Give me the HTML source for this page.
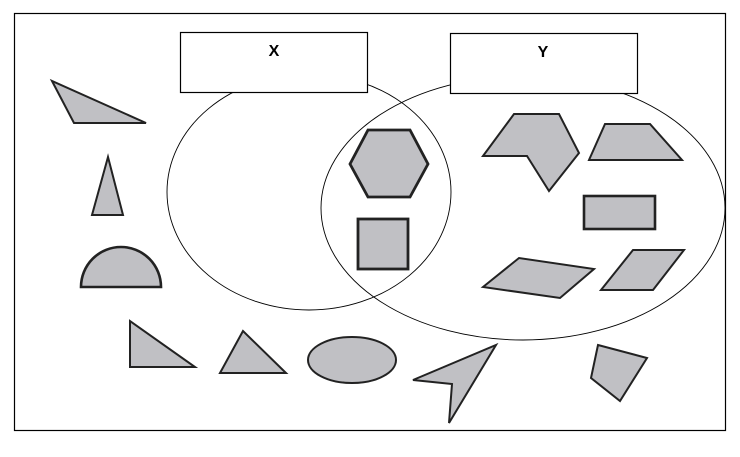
<!DOCTYPE html>
<html><head><style>html,body{margin:0;padding:0;background:#fff}</style></head><body>
<svg width="740" height="452" viewBox="0 0 740 452" xmlns="http://www.w3.org/2000/svg">
<rect x="14.5" y="13.5" width="711" height="417" fill="#fff" stroke="#000" stroke-width="1.2"/>
<ellipse cx="309" cy="192" rx="142" ry="118" fill="none" stroke="#000" stroke-width="0.9"/>
<ellipse cx="523" cy="208" rx="202" ry="132" fill="none" stroke="#000" stroke-width="0.9"/>
<rect x="180.5" y="32.5" width="187" height="60" fill="#fff" stroke="#000" stroke-width="1.2"/>
<rect x="450.5" y="33.5" width="187" height="60" fill="#fff" stroke="#000" stroke-width="1.2"/>
<text x="274" y="56" font-family="Liberation Sans, sans-serif" font-weight="bold" font-size="16" text-anchor="middle">X</text>
<text x="543" y="57" font-family="Liberation Sans, sans-serif" font-weight="bold" font-size="16" text-anchor="middle">Y</text>
<g fill="#c0c0c4" stroke="#222" stroke-width="2" stroke-linejoin="miter">
<polygon points="52,81 74,123 146,123"/>
<polygon points="108,157 92,215 123,215"/>
<path d="M81,287 A40,40 0 0 1 161,287 Z" stroke-width="2.6"/>
<polygon points="130,321 130,367 195,367"/>
<polygon points="243,331 220,373 286,373"/>
<ellipse cx="352" cy="360" rx="44" ry="23"/>
<polygon points="350,164 368,130 410,130 428,164 410,197 368,197" stroke-width="2.8"/>
<rect x="358" y="219" width="50" height="50" stroke-width="2.8"/>
<polygon points="483,156 514,114 559,114 579,153 549,191 527,156"/>
<polygon points="589,160 605,124 650,124 682,160"/>
<rect x="584" y="196" width="71" height="33" stroke-width="2.6"/>
<polygon points="483,287 519,258 594,269 560,298"/>
<polygon points="601,290 633,250 684,250 653,290"/>
<polygon points="413,380 496,345 449,423 452,384"/>
<polygon points="598,345 647,358 620,401 591,378"/>
</g>
</svg>
</body></html>
